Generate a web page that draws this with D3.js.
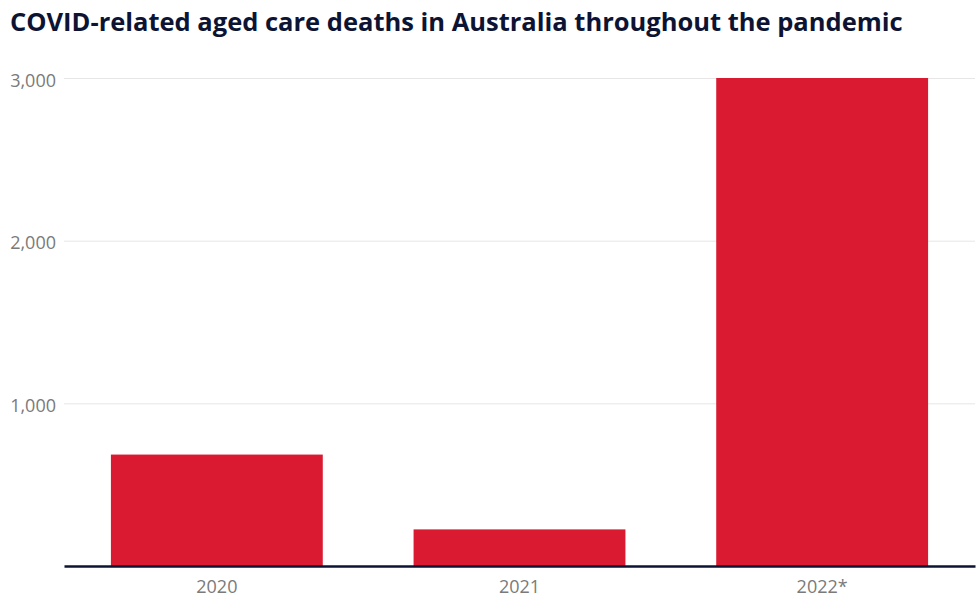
<!DOCTYPE html>
<html>
<head>
<meta charset="utf-8">
<script src="https://cdn.jsdelivr.net/npm/d3@7"></script>
<style>
  body { margin: 0; background: #fff; }
  svg { display: block; font-family: "Open Sans", sans-serif; }
</style>
</head>
<body>
<div id="chart"></div>
<script>
// values
const years = ["2020", "2021", "2022*"];
const deaths = [685, 225, 3000];
const yTicks = [1000, 2000, 3000];

const width = 980,
    height = 608,
    margin = ({ top: 78, right: 5, bottom: 42, left: 64 });

const data = years.map((y, i) => ({ year: y, value: deaths[i] }));

let svg = d3.select("#chart")
    .append("svg")
    .attr("width", width)
    .attr("height", height);

svg.append("text")
    .attr("x", 10)
    .attr("y", 31)
    .style("font-size", "25.5px")
    .style("font-weight", 700)
    .style("fill", "#0d1433")
    .text("COVID-related aged care deaths in Australia throughout the pandemic");

let x = d3.scaleBand()
    .domain(years)
    .range([margin.left, width - margin.right])
    .paddingInner(0.3)
    .paddingOuter(0.155);

let y = d3.scaleLinear()
    .domain([0, 3000])
    .range([height - margin.bottom, margin.top]);

// gridlines + y labels
let yAxis = svg.append("g")
    .attr("transform", `translate(${margin.left},0)`)
    .attr("font-family", null)
    .call(d3.axisLeft(y)
        .tickValues(yTicks)
        .tickSize(-(width - margin.right - margin.left))
        .tickPadding(8)
        .tickFormat(d3.format(",")))
    .attr("font-family", null)
    .attr("font-size", null);

yAxis.select(".domain").remove();
yAxis.selectAll(".tick line").attr("stroke", "#e6e6e6");
yAxis.selectAll(".tick text")
    .attr("dy", "0.45em")
    .style("font-size", "18px")
    .style("fill", "#7a7a7a");

// bars
svg.selectAll(".bar")
    .data(data)
    .join("rect")
    .attr("class", "bar")
    .attr("fill", "#d91a30")
    .attr("x", d => x(d.year))
    .attr("width", x.bandwidth())
    .attr("y", d => y(d.value))
    .attr("height", d => y(0) - y(d.value));

// x axis
let xAxis = svg.append("g")
    .attr("transform", `translate(0,${y(0)})`)
    .call(d3.axisBottom(x).tickSize(0).tickPadding(14))
    .attr("font-family", null)
    .attr("font-size", null);

xAxis.select(".domain")
    .attr("stroke", "#0d1433")
    .attr("stroke-width", 2.5);
xAxis.selectAll(".tick text")
    .style("font-size", "18px")
    .style("fill", "#7a7a7a");
</script>
</body>
</html>
